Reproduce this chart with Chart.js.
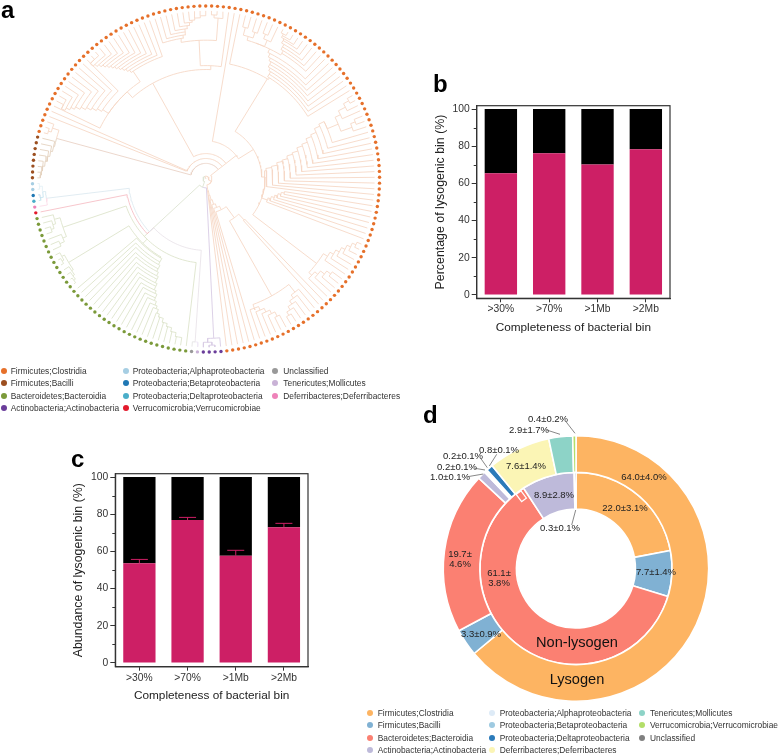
<!DOCTYPE html>
<html>
<head>
<meta charset="utf-8">
<script src="https://cdn.jsdelivr.net/npm/chart.js@4"></script>
<style>
html,body{margin:0;padding:0;background:#fff;}
#page{position:relative;width:779px;height:755px;overflow:hidden;font-family:"Liberation Sans",Arial,sans-serif;color:#222;}
canvas{position:absolute;}
.letter{position:absolute;font-size:24px;font-weight:bold;line-height:24px;color:#000;}
.key{position:absolute;font-size:8.4px;line-height:10px;white-space:nowrap;color:#333;}
.dot{position:absolute;width:6px;height:6px;border-radius:50%;}
</style>
</head>
<body>
<div id="page">
<canvas id="tree" width="412" height="360" style="left:0;top:0"></canvas>
<canvas id="barB" width="250" height="242" style="left:431px;top:95px"></canvas>
<canvas id="barC" width="250" height="242" style="left:69px;top:463px"></canvas>
<canvas id="ring" width="379" height="310" style="left:400px;top:400px"></canvas>
<div class="letter" style="left:1px;top:-2px">a</div>
<div class="letter" style="left:433px;top:72px">b</div>
<div class="letter" style="left:71px;top:447px">c</div>
<div class="letter" style="left:423px;top:403px">d</div>
</div>
<script>
// ---- panel a: taxa, in the order the leaves sit on the circle
const leafTaxa=["Firmicutes;Clostridia","Firmicutes;Bacilli","Proteobacteria;Alphaproteobacteria","Proteobacteria;Betaproteobacteria","Proteobacteria;Deltaproteobacteria","Deferribacteres;Deferribacteres","Verrucomicrobia;Verrucomicrobiae","Bacteroidetes;Bacteroidia","Unclassified","Tenericutes;Mollicutes","Actinobacteria;Actinobacteria"];
const leafCounts=[128,8,2,1,1,1,1,37,1,1,4];
const leafColors=["#e6702a","#9c4f20","#a6cee3","#1f78b4","#4aaec9","#ee82b9","#e31a2c","#7b9a3a","#999999","#c9b2d6","#6a3d9a"];
const treeKeyRows=[
    ["Firmicutes;Clostridia","Firmicutes;Bacilli","Bacteroidetes;Bacteroidia","Actinobacteria;Actinobacteria"],
    ["Proteobacteria;Alphaproteobacteria","Proteobacteria;Betaproteobacteria","Proteobacteria;Deltaproteobacteria","Verrucomicrobia;Verrucomicrobiae"],
    ["Unclassified","Tenericutes;Mollicutes","Deferribacteres;Deferribacteres"]
];

// node radii of the ladders in the tree (px from centre)
const combA1=[141,145,149,153,158];
const combA2=[147,151,155,159,163];
const combB1=[146,150,155,160];
const combB2=[147,151,155,159,163,167];
const combC=[66,69,72,75,78,81];
const combD=[62,68,74,80,86,92,98,104,110,116,122,128,134];
const combDAt=[98,100,101,103,104,106,107,109,110,112,113,115,116];
const combE=[122,125,128,131,134,137,140,144];
const combEAt=[148,149,149,150,151,151,152,153];
const combR2=[150,153,156,159,162,164,166,168];
const combR2At=[149,149,150,150,151,151,152,152];
const combTop=[146,149,152,155,158,161,163,165,167];
const combTopAt=[190,189,188,188,187,186,185,184,182];
const combL2=[133,136,139,142,145,148,151,154,157,160,163,167];
const combL2At=[214,215,216,217,218,219,220,221,222,223,224,225];
const combL3=[127,132,137,142,147,152,156,160,164];
const combL3At=[236,237,238,239,240,241,242,243,244];
const combG3=[93,97,100,104,107,111,114,118,121,125,128,132,135,139,142,146,149,153,156,160,164];
const combG3At=[330,331,331,332,332,333,334,334,335,335,336,337,337,338,339,340,341,343,345,347,349];
const combBrown=[159,161,163,165,167,168,169];

// ---- panels b and c
const completeness=[">30%",">70%",">1Mb",">2Mb"];
const binLysogenic=[65.5,76.2,70.2,78.4];
const binOther=[34.5,23.8,29.8,21.6];
const abundLysogenic=[53.6,76.9,57.7,73];
const abundOther=[46.4,23.1,42.3,27];
const abundErr=[2.1,1.4,2.9,2.1];
const barTicks=[0,20,40,60,80,100];
const barMinor=[10,30,50,70,90];

// ---- panel d
const ringTaxa=["Firmicutes;Clostridia","Firmicutes;Bacilli","Bacteroidetes;Bacteroidia","Actinobacteria;Actinobacteria","Proteobacteria;Alphaproteobacteria","Proteobacteria;Betaproteobacteria","Proteobacteria;Deltaproteobacteria","Deferribacteres;Deferribacteres","Tenericutes;Mollicutes","Verrucomicrobia;Verrucomicrobiae","Unclassified"];
const lysogenPct=[64.0,3.3,19.7,1.0,0.2,0.2,0.8,7.6,2.9,0.4,0];
const nonLysogenPct=[22.0,7.7,61.1,8.9,0,0,0,0,0,0,0.3];
const ringColors=["#fdb462","#80b1d3","#fb8072","#bebada","#deebf7","#9ecae1","#2b7bba","#fbf5b5","#8dd3c7","#b3de69","#808080"];
const ringKeyRows=[
    ["Firmicutes;Clostridia","Firmicutes;Bacilli","Bacteroidetes;Bacteroidia","Actinobacteria;Actinobacteria"],
    ["Proteobacteria;Alphaproteobacteria","Proteobacteria;Betaproteobacteria","Proteobacteria;Deltaproteobacteria","Deferribacteres;Deferribacteres"],
    ["Tenericutes;Mollicutes","Verrucomicrobia;Verrucomicrobiae","Unclassified"]
];
// text, x, y on the page, then optional leader line
const ringNotes=[
    ["64.0±4.0%",644,477],["22.0±3.1%",625,508],["7.7±1.4%",656,572],["8.9±2.8%",554,495],
    ["0.3±0.1%",560,528,575.7,510,571.7,525],["7.6±1.4%",526,466],
    ["2.9±1.7%",529,430,546.7,430,560,434.3],["0.4±0.2%",548,419,566,421.7,575,433.3],
    ["0.8±0.1%",499,450,496.7,454.3,489.3,466],["0.2±0.1%",463,456,480.7,458.3,487.3,467.7],
    ["0.2±0.1%",457,467,475,468.3,485,470],["1.0±0.1%",450,477,467.7,476.7,483.3,474],
    ["19.7±",460,554],["4.6%",460,564],["61.1±",499,573],["3.8%",499,583],["3.3±0.9%",481,634]
];

Chart.defaults.font.family='"Liberation Sans",Arial,sans-serif';
Chart.defaults.animation=false;

// ---------- panel a
function pin(angle,node){
    node.pinned=angle;
    return node;
}
function comb(radii,angles,tail){
    let next=tail===undefined?0:tail;
    for(let k=radii.length-1;k>=0;k--){
        const n=[radii[k],0,next];
        if(angles)
            n.pinned=angles[k];
        next=n;
    }
    return next;
}
function combRev(radii,angles){
    let next=0;
    for(let k=radii.length-1;k>=0;k--){
        const n=[radii[k],next,0];
        if(angles)
            n.pinned=angles[k];
        next=n;
    }
    return next;
}

const cladeA=[137,[143,comb(combA1)],combRev(combA2)];
const cladeB=[142,comb(combB1),comb(combB2)];
const cladeS=[146,[158,0,[163,0,0]],[152,0,[160,0,[166,0,0]]]];
const cladeR1=[148,[155,0,[160,0,0]],[152,[158,0,0],[160,0,0]]];
const cladeE=pin(148.6,[120,comb(combE,combEAt,pin(154,[148,comb(combR2,combR2At),cladeR1])),0]);
const cladeRight=pin(128,[39,pin(122,[57,pin(92,[60,cladeB,comb(combC),comb(combD,combDAt,cladeS)]),cladeE]),0]);
const cladeTop=pin(209,[112,[116,0,[142,[165,0,[168,0,0]],combRev(combTop,combTopAt)]],pin(222,[120,comb(combL2,combL2At),comb(combL3,combL3At),0])]);
const cladeBrown=[158,[165,0,[168,0,0]],comb(combBrown)];
const cladeLow=[12,0,[17,0,[22,0,[27,0,[31,0,[35,0,[49,cladeA,[57,0,0]]]]]]]];
const firmicutes=[6,cladeLow,pin(128,[16,pin(128,[21,pin(128,[26,cladeRight,cladeTop]),[22,0,0]]),cladeBrown])];

const cladeProteo=[164,[167,[170,0,0],[170,0,0]],0];
const cladeG1=[154,[160,0,[163,0,[166,0,0]]],[158,0,[163,0,0]]];
const cladeG2=[164,[167,0,[169,0,0]],[166,0,[168,0,[170,0,0]]]];
const cladeGreen=pin(313,[86,cladeG1,[92,cladeG2,comb(combG3,combG3At)],0]);
const nonFirm=pin(313,[73,pin(313,[79,cladeProteo]),pin(313,[82,0]),cladeGreen,[167,0,0]]);
const cladeActino=[163,[167,0,[170,0,0]],0];
const treeRoot=[3,firmicutes,[9,nonFirm,cladeActino]];

const leafStep=360/185;
const leafStart=6.9;
const tipRadius=172;
const dotRadius=177;

function hexRgb(h){
    return [parseInt(h.slice(1,3),16),parseInt(h.slice(3,5),16),parseInt(h.slice(5,7),16)];
}
function polar(r,a){
    const t=a*Math.PI/180;
    return {x:r*Math.sin(t),y:-r*Math.cos(t)};
}

const leafOwner=[];
leafCounts.forEach((n,t)=>{
    for(let k=0;k<n;k++)
        leafOwner.push(t);
});

let leafNext=0;
const branchLines={};
const leafPoints=leafColors.map(()=>[]);

function addBranch(rgb,pts){
    // pale tint of the taxon colour
    const key="rgb("+rgb.map(v=>Math.round((v*0.27+255*0.73)/6)*6).join(",")+")";
    if(!branchLines[key])
        branchLines[key]=[];
    branchLines[key].push(...pts,{x:NaN,y:NaN});
}
function layout(node){
    if(node===0){
        const i=leafNext++;
        const a=leafStart+i*leafStep;
        const t=leafOwner[i];
        leafPoints[t].push(polar(dotRadius,a));
        return {a,r:tipRadius,rgb:hexRgb(leafColors[t]),n:1};
    }
    const kids=node.slice(1).map(layout);
    const r=node[0];
    const a=node.pinned!==undefined?node.pinned:(kids[0].a+kids[kids.length-1].a)/2;
    let n=0;
    const sum=[0,0,0];
    kids.forEach(k=>{
        const arc=[];
        const steps=Math.max(1,Math.ceil(Math.abs(k.a-a)/2));
        for(let s=0;s<=steps;s++)
            arc.push(polar(r,a+(k.a-a)*s/steps));
        arc.push(polar(k.r,k.a));
        addBranch(k.rgb,arc);
        n+=k.n;
        k.rgb.forEach((v,c)=>sum[c]+=v*k.n);
    });
    return {a,r,n,rgb:sum.map(v=>v/n)};
}
const rootInfo=layout(treeRoot);
addBranch(rootInfo.rgb,[polar(0,rootInfo.a),polar(treeRoot[0],rootInfo.a)]);

const treeSets=Object.keys(branchLines).map(c=>({
    data:branchLines[c],
    showLine:true,
    borderColor:c,
    borderWidth:0.9,
    pointRadius:0,
    order:2
}));
leafColors.forEach((c,t)=>{
    treeSets.push({
        label:leafTaxa[t],
        data:leafPoints[t],
        pointRadius:1.7,
        pointBorderWidth:0,
        pointBackgroundColor:c,
        order:1
    });
});

new Chart(document.getElementById("tree"),{
    type:"scatter",
    data:{datasets:treeSets},
    options:{
        responsive:false,
        events:[],
        layout:{padding:0},
        plugins:{legend:{display:false},tooltip:{enabled:false}},
        scales:{
            x:{display:false,type:"linear",min:-206,max:206},
            y:{display:false,type:"linear",min:-181,max:179}
        }
    }
});

// ---------- panels b, c
const axisPlugin={
    id:"axisFrame",
    afterDraw(chart){
        const ctx=chart.ctx;
        const a=chart.chartArea;
        const y=chart.scales.y;
        ctx.save();
        ctx.strokeStyle="#333";
        ctx.lineWidth=1.2;
        ctx.strokeRect(a.left,a.top,a.right-a.left,a.bottom-a.top);
        ctx.beginPath();
        barMinor.forEach(v=>{
            const p=Math.round(y.getPixelForValue(v))+0.5;
            ctx.moveTo(a.left,p);
            ctx.lineTo(a.left-3,p);
        });
        ctx.stroke();
        ctx.restore();
    }
};
const errorPlugin={
    id:"errorBars",
    afterDatasetsDraw(chart,args,opts){
        if(!opts.errs)
            return;
        const ctx=chart.ctx;
        const x=chart.scales.x;
        const y=chart.scales.y;
        const vals=chart.data.datasets[0].data;
        ctx.save();
        ctx.strokeStyle=opts.color;
        ctx.lineWidth=1;
        ctx.beginPath();
        vals.forEach((v,i)=>{
            const px=x.getPixelForValue(i);
            const top=y.getPixelForValue(v+opts.errs[i]);
            ctx.moveTo(px,y.getPixelForValue(v));
            ctx.lineTo(px,top);
            ctx.moveTo(px-8.5,top);
            ctx.lineTo(px+8.5,top);
        });
        ctx.stroke();
        ctx.restore();
    }
};

function stackedBars(id,title,low,high,errs,sizes){
    return new Chart(document.getElementById(id),{
        type:"bar",
        data:{
            labels:completeness,
            datasets:[
                {data:low,backgroundColor:"#cd1f65",barPercentage:0.67,categoryPercentage:1},
                {data:high,backgroundColor:"#000000",barPercentage:0.67,categoryPercentage:1}
            ]
        },
        plugins:[axisPlugin,errorPlugin],
        options:{
            responsive:false,
            events:[],
            layout:{padding:{top:sizes.top,right:sizes.right,left:0,bottom:0}},
            plugins:{
                legend:{display:false},
                tooltip:{enabled:false},
                errorBars:{errs:errs,color:"#cd1f65"}
            },
            scales:{
                x:{
                    stacked:true,
                    grid:{drawOnChartArea:false,color:"#333",tickLength:4,offset:false},
                    border:{color:"#333",width:1.2},
                    ticks:{color:"#333",font:{size:10.3},padding:1,maxRotation:0},
                    title:{display:true,text:"Completeness of bacterial bin",color:"#222",font:{size:11.8},padding:{top:0,bottom:2}},
                    afterFit(s){s.height=sizes.bottom;}
                },
                y:{
                    stacked:true,
                    min:sizes.min,
                    max:101.8,
                    grid:{drawOnChartArea:false,color:"#333",tickLength:5},
                    border:{color:"#333",width:1.2},
                    ticks:{color:"#333",font:{size:10.3},padding:2},
                    afterBuildTicks(s){s.ticks=barTicks.map(v=>({value:v}));},
                    title:{display:true,text:title,color:"#222",font:{size:12.4},padding:{top:2,bottom:0}},
                    afterFit(s){s.width=sizes.left;}
                }
            }
        }
    });
}
stackedBars("barB","Percentage of lysogenic bin (%)",binLysogenic,binOther,null,{top:10.7,right:11,left:45.7,bottom:38.7,min:-1.8});
stackedBars("barC","Abundance of lysogenic bin (%)",abundLysogenic,abundOther,abundErr,{top:10.7,right:11,left:46.3,bottom:38.3,min:-2});

// ---------- panel d
const ringPlugin={
    id:"ringNotes",
    afterDraw(chart){
        const ctx=chart.ctx;
        const ox=400;
        const oy=400;
        ctx.save();
        // small white outlined sliver near the end of the inner Bacteroidia slice
        const arc=chart.getDatasetMeta(1).data[2];
        const ang=arc.endAngle-0.07;
        const mid=arc.outerRadius-5.5;
        ctx.translate(arc.x+mid*Math.cos(ang),arc.y+mid*Math.sin(ang));
        ctx.rotate(ang);
        ctx.strokeStyle="#fff";
        ctx.lineWidth=1.2;
        ctx.strokeRect(-4.5,-3,9,6);
        ctx.restore();

        ctx.save();
        ctx.fillStyle="#222";
        ctx.strokeStyle="#555";
        ctx.lineWidth=0.7;
        ctx.textAlign="center";
        ctx.textBaseline="middle";
        ctx.font='9.5px "Liberation Sans",Arial,sans-serif';
        ringNotes.forEach(n=>{
            ctx.fillText(n[0],n[1]-ox,n[2]-oy);
            if(n.length>3){
                ctx.beginPath();
                ctx.moveTo(n[3]-ox,n[4]-oy);
                ctx.lineTo(n[5]-ox,n[6]-oy);
                ctx.stroke();
            }
        });
        ctx.font='14.6px "Liberation Sans",Arial,sans-serif';
        ctx.fillStyle="#111";
        ctx.fillText("Non-lysogen",577-ox,643-oy);
        ctx.fillText("Lysogen",577-ox,680-oy);
        ctx.restore();
    }
};
new Chart(document.getElementById("ring"),{
    type:"doughnut",
    data:{
        labels:ringTaxa,
        datasets:[
            {label:"Lysogen",data:lysogenPct,backgroundColor:ringColors,borderColor:"#fff",borderWidth:1.6},
            {label:"Non-lysogen",data:nonLysogenPct,backgroundColor:ringColors,borderColor:"#fff",borderWidth:1.6}
        ]
    },
    plugins:[ringPlugin],
    options:{
        responsive:false,
        events:[],
        cutout:59.5,
        layout:{padding:{left:42.5,right:69.5,top:35,bottom:8}},
        plugins:{legend:{display:false},tooltip:{enabled:false}}
    }
});

// ---------- keys under panels a and d
function addKey(rows,names,colors,colX,textX,rowY){
    const page=document.getElementById("page");
    rows.forEach((col,c)=>{
        col.forEach((name,r)=>{
            const dot=document.createElement("div");
            dot.className="dot";
            dot.style.left=(colX[c]-3)+"px";
            dot.style.top=(rowY[r]-3)+"px";
            dot.style.background=colors[names.indexOf(name)];
            page.appendChild(dot);
            const t=document.createElement("div");
            t.className="key";
            t.style.left=textX[c]+"px";
            t.style.top=(rowY[r]-5)+"px";
            t.textContent=name;
            page.appendChild(t);
        });
    });
}
addKey(treeKeyRows,leafTaxa,leafColors,[3.7,125.7,275.3],[10.7,132.7,283.3],[371,383.3,396,408.3]);
addKey(ringKeyRows,ringTaxa,ringColors,[370.3,492.3,642.3],[377.7,499.7,650],[712.7,725,737.7,750]);
</script>
</body>
</html>
